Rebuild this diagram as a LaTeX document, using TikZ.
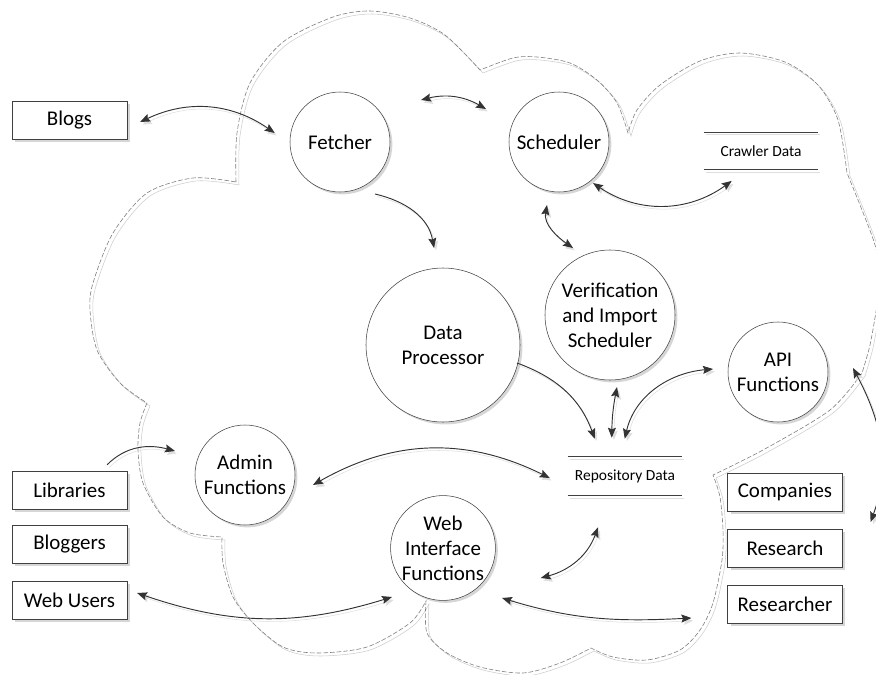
\documentclass[tikz,border=0pt]{standalone}
\usepackage{fontspec}
\setmainfont{Carlito}
\usetikzlibrary{arrows.meta,shadows}
\begin{document}
\begin{tikzpicture}[x=0.75pt,y=-0.75pt,
  font=\fontsize{15.7}{18.8}\selectfont,
  >={Stealth[length=7.5pt,width=6pt,inset=1.2pt]},
  shdw/.style={preaction={draw=black!13,transform canvas={xshift=1.6pt,yshift=-2pt}}},
  proc/.style={circle,draw=black!75,fill=white,align=center,inner sep=0pt,minimum size=75pt,
    drop shadow={shadow xshift=1.8pt,shadow yshift=-1.8pt,fill=black!16,opacity=1}},
  ent/.style={rectangle,draw=black!75,fill=white,minimum width=86pt,minimum height=28.5pt,
    drop shadow={shadow xshift=2.2pt,shadow yshift=-2.2pt,fill=black!16,opacity=1}},
  store/.style={minimum width=85.5pt,minimum height=28pt,font=\fontsize{11.6}{14}\selectfont},
  storeline/.style={draw=black!75,line width=0.7pt,shdw},
  flow/.style={draw=black!80,line width=0.7pt,shdw},
  cloud/.style={draw=black!50,line width=0.45pt,dash pattern=on 3.5pt off 1.5pt,
    preaction={draw=black!20,transform canvas={xshift=2.25pt,yshift=-2.25pt}}}]
\useasboundingbox (0,0) rectangle (876,675);
\clip (0,0) rectangle (876,675);
\draw[cloud] plot[smooth] coordinates {(236,182) (237,133) (250,83) (283,42) (333,17) (370,11) (410,18) (445,35) (480,70)}
  -- plot[smooth] coordinates {(480,70) (513,58) (537,57) (570,63) (597,80) (617,103) (628,133)}
  -- plot[smooth] coordinates {(628,133) (637,110) (660,85) (700,61) (740,53) (785,62) (818,85) (838,120) (847,173)}
  -- plot[smooth] coordinates {(847,173) (862,210) (875,245) (880,275) (877,305) (870,345) (862,373)}
  -- plot[smooth] coordinates {(862,373) (830,410) (763,450) (713,475)}
  -- plot[smooth] coordinates {(713,475) (720,497) (723,530) (722,560) (713,603) (700,630) (680,650) (647,660) (613,657) (591,648)}
  -- plot[smooth] coordinates {(591,648) (560,663) (523,673) (480,667) (447,653) (427,633) (426,601)}
  -- plot[smooth] coordinates {(426,601) (410,623) (367,647) (317,653) (283,647) (253,623) (233,597) (223,563) (222,537)}
  -- plot[smooth] coordinates {(222,537) (190,533) (163,517) (143,483) (138,450) (140,423) (147,403)}
  -- plot[smooth] coordinates {(147,403) (120,383) (97,350) (90,310) (93,283) (113,233) (147,193) (193,178) (236,182)};
\node (Fetch) at (340,142)[proc] {Fetcher};
\node (Sched) at (559,142)[proc] {Scheduler};
\node (Verif) at (610,315)[proc,minimum size=97.5pt] {Verification\\and Import\\Scheduler};
\node (Proc) at (443,345)[proc,minimum size=115.5pt] {Data\\Processor};
\node (API) at (778,372)[proc] {API\\Functions};
\node (Admin) at (245,475)[proc] {Admin\\Functions};
\node (Web) at (443,548)[proc] {Web\\Interface\\Functions};
\node (Crawl) at (761,151)[store] {Crawler Data};
\node (Repo) at (625,476)[store,minimum height=28.5pt] {Repository Data};
\draw[storeline] (Crawl.north west) -- (Crawl.north east) (Crawl.south west) -- (Crawl.south east);
\draw[storeline] (Repo.north west) -- (Repo.north east) (Repo.south west) -- (Repo.south east);
\node (Blogs) at (69.5,120)[ent] {Blogs};
\node (Libs) at (69.5,490)[ent] {Libraries};
\node (Blgrs) at (69.5,544)[ent] {Bloggers};
\node (WebU) at (69.5,600)[ent] {Web Users};
\node (Comp) at (785,492)[ent] {Companies};
\node (Rsch) at (785,548)[ent] {Research};
\node (Rschr) at (785,604)[ent] {Researcher};
\draw[flow,<->] ([shift={(13,2)}]Blogs.east) to[bend left=30] ([shift={(-15,-9)}]Fetch.west);
\draw[flow,<->] ([shift={(81,-42)}]Fetch.center) to[bend left=22] ([shift={(-73,-33)}]Sched.center);
\draw[flow,<->] ([shift={(34,41)}]Sched.center) to[bend right=35] ([shift={(28,11)}]Crawl.south west);
\draw[flow,->] ([shift={(35,52)}]Fetch.center) to[out=-13,in=100] ([shift={(-9,-97)}]Proc.center);
\draw[flow,<->] ([shift={(-12,63)}]Sched.center) to[out=-100,in=145] ([shift={(-37,-67)}]Verif.center);
\draw[flow,->] ([shift={(74,18)}]Proc.center) to[out=-20,in=110] ([shift={(27,-18)}]Repo.north west);
\draw[flow,<->] ([shift={(7,72)}]Verif.center) to[bend right=5] ([shift={(44,-19)}]Repo.north west);
\draw[flow,<->] ([shift={(57,-18)}]Repo.north west) to[out=77,in=185] ([shift={(-65,-3)}]API.center);
\draw[flow,<->] ([shift={(68,10)}]Admin.center) to[bend left=28] ([shift={(-18,2)}]Repo.west);
\draw[flow,->] ([shift={(-20,-6)}]Libs.north east) to[out=45,in=165] ([shift={(-70,-24)}]Admin.center);
\draw[flow,<->] ([shift={(10,-7)}]WebU.east) to[bend right=18] ([shift={(-51,49)}]Web.center);
\draw[flow,<->] ([shift={(45,30)}]Web.east) to[out=15,in=-110] ([shift={(-27,32)}]Repo.south);
\draw[flow,<->] ([shift={(59,50)}]Web.center) to[out=-17,in=183] ([shift={(-36,14)}]Rschr.west);
\draw[flow,<->] ([shift={(75,-4)}]API.center) to[out=-62,in=70] ([shift={(28,30)}]Comp.east);
\end{tikzpicture}
\end{document}
